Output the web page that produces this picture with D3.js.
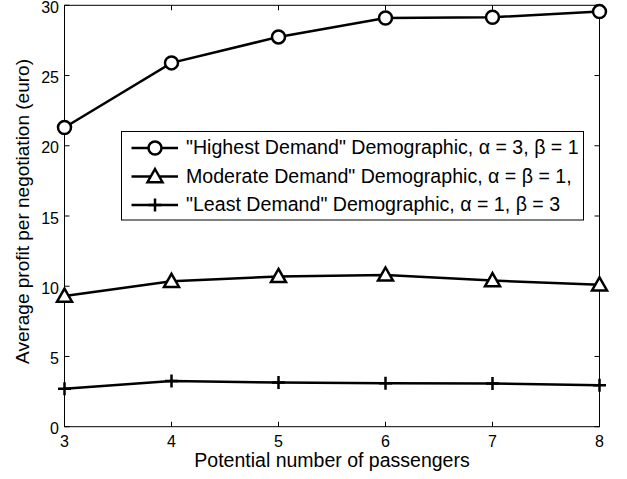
<!DOCTYPE html>
<html>
<head>
<meta charset="utf-8">
<script src="https://cdn.jsdelivr.net/npm/d3@7"></script>
<style>
  body { margin: 0; background: #fff; }
  svg { font-family: "Liberation Sans", Arial, sans-serif; }
</style>
</head>
<body>
<svg id="chart" width="627" height="479"></svg>
<script>
// Data
const passengers = [3, 4, 5, 6, 7, 8];
const highest = [21.3, 25.9, 27.75, 29.1, 29.15, 29.55];
const moderate = [9.3, 10.35, 10.7, 10.8, 10.4, 10.1];
const least = [2.7, 3.25, 3.15, 3.1, 3.08, 2.95];
const yTicks = [0, 5, 10, 15, 20, 25, 30];
const seriesNames = [
  "\"Highest Demand\" Demographic, \u03b1 = 3, \u03b2 = 1",
  "Moderate Demand\" Demographic, \u03b1 = \u03b2 = 1,",
  "\"Least Demand\" Demographic, \u03b1 = 1, \u03b2 = 3"
];
const markers = ["circle", "triangle", "plus"];

const margin = { top: 5.3, right: 27.5, bottom: 52.3, left: 64.5 };
const width = 627, height = 479;
const svg = d3.select("#chart");

const x = d3.scaleLinear().domain([3, 8]).range([margin.left, width - margin.right]);
const y = d3.scaleLinear().domain([0, 30]).range([height - margin.bottom, margin.top]);

// Ticks (inside, on all four sides like MATLAB box on)
const tl = 5;
const g = svg.append("g").attr("stroke", "#000").attr("stroke-width", 1);
passengers.forEach(v => {
  g.append("line").attr("x1", x(v)).attr("x2", x(v)).attr("y1", y(0)).attr("y2", y(0) - tl);
  g.append("line").attr("x1", x(v)).attr("x2", x(v)).attr("y1", y(30)).attr("y2", y(30) + tl);
});
yTicks.forEach(v => {
  g.append("line").attr("x1", x(3)).attr("x2", x(3) + tl).attr("y1", y(v)).attr("y2", y(v));
  g.append("line").attr("x1", x(8)).attr("x2", x(8) - tl).attr("y1", y(v)).attr("y2", y(v));
});
svg.append("rect")
  .attr("x", x(3)).attr("y", y(30))
  .attr("width", x(8) - x(3)).attr("height", y(0) - y(30))
  .attr("fill", "none").attr("stroke", "#000").attr("stroke-width", 1);

// Tick labels
svg.append("g").selectAll("text").data(passengers).join("text")
  .attr("x", d => x(d)).attr("y", y(0) + 20)
  .attr("text-anchor", "middle").attr("font-size", 16).text(d => d);
svg.append("g").selectAll("text").data(yTicks).join("text")
  .attr("x", x(3) - 5.5).attr("y", d => y(d) + 7.5)
  .attr("text-anchor", "end").attr("font-size", 16).text(d => d);

// Axis labels
svg.append("text").attr("x", 332).attr("y", 467)
  .attr("text-anchor", "middle").attr("font-size", 19.5).text("Potential number of passengers");
svg.append("text")
  .attr("transform", "translate(29,211.5) rotate(-90)")
  .attr("text-anchor", "middle").attr("font-size", 19)
  .text("Average profit per negotiation (euro)");

function drawMarker(sel, type, cx, cy) {
  if (type === "circle") {
    sel.append("circle").attr("cx", cx).attr("cy", cy).attr("r", 6.5)
      .attr("fill", "#fff").attr("stroke", "#000").attr("stroke-width", 2.5);
  } else if (type === "triangle") {
    const s = 7.5;
    sel.append("path")
      .attr("d", `M${cx},${cy - s}L${cx + s},${cy + s * 0.75}L${cx - s},${cy + s * 0.75}Z`)
      .attr("fill", "#fff").attr("stroke", "#000").attr("stroke-width", 2.5)
      .attr("stroke-linejoin", "miter");
  } else {
    const s = 6.5;
    sel.append("path")
      .attr("d", `M${cx - s},${cy}H${cx + s}M${cx},${cy - s}V${cy + s}`)
      .attr("stroke", "#000").attr("stroke-width", 2.5);
  }
}

const line = d3.line().x((d, i) => x(passengers[i])).y(d => y(d));
[highest, moderate, least].forEach((vals, k) => {
  const sg = svg.append("g");
  sg.append("path").attr("d", line(vals)).attr("fill", "none")
    .attr("stroke", "#000").attr("stroke-width", 2.5);
  vals.forEach((v, i) => drawMarker(sg, markers[k], x(passengers[i]), y(v)));
});

// Legend
const lg = svg.append("g");
lg.append("rect").attr("x", 121.5).attr("y", 131.5).attr("width", 462).attr("height", 88.5)
  .attr("fill", "#fff").attr("stroke", "#000").attr("stroke-width", 1);
seriesNames.forEach((name, k) => {
  const ly = 148 + k * 28.5;
  lg.append("line").attr("x1", 131.5).attr("x2", 178).attr("y1", ly).attr("y2", ly)
    .attr("stroke", "#000").attr("stroke-width", 2.5);
  drawMarker(lg, markers[k], 155, ly);
  lg.append("text").attr("x", 186).attr("y", ly + 6).attr("font-size", 19.6).text(name);
});
</script>
</body>
</html>
